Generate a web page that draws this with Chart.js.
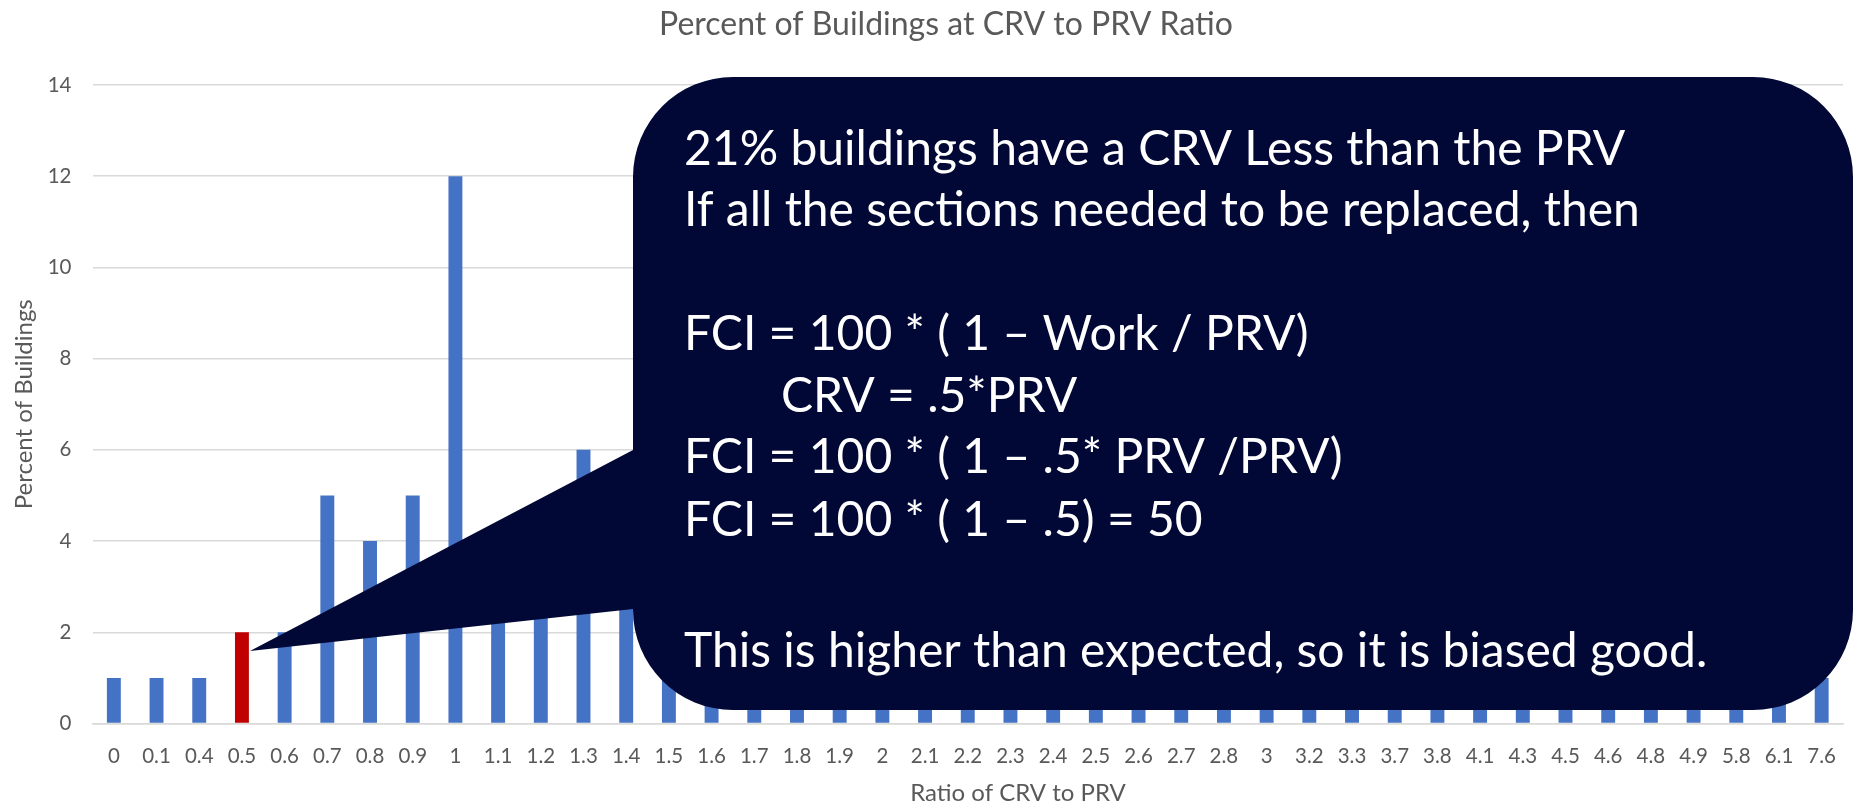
<!DOCTYPE html>
<html>
<head>
<meta charset="utf-8">
<script src="https://cdn.jsdelivr.net/npm/chart.js@4.4.1/dist/chart.umd.min.js"></script>
<style>
  html, body { margin: 0; padding: 0; background: #fff; }
  #wrap { width: 1857px; height: 806px; }
</style>
</head>
<body>
<div id="wrap"><canvas id="ratioChart" width="1857" height="806"></canvas></div>
<script>
// CRV / PRV ratio buckets and the share of buildings in each
const ratioLabels = ['0', '0.1', '0.4', '0.5', '0.6', '0.7', '0.8', '0.9', '1', '1.1',
  '1.2', '1.3', '1.4', '1.5', '1.6', '1.7', '1.8', '1.9', '2', '2.1', '2.2', '2.3', '2.4',
  '2.5', '2.6', '2.7', '2.8', '3', '3.2', '3.3', '3.7', '3.8', '4.1', '4.3', '4.5', '4.6',
  '4.8', '4.9', '5.8', '6.1', '7.6'];
const percentValues = [1, 1, 1, 2, 2, 5, 4, 5, 12, 4,
  4, 6, 5, 4, 4, 3, 3, 3, 3, 2, 2, 2, 2,
  2, 1, 2, 1, 1, 1, 1, 1, 1, 1, 1, 1, 1,
  1, 1, 1, 1, 1];
const yTicks = [0, 2, 4, 6, 8, 10, 12, 14];
const highlightRatio = '0.5';

const chartTitle = 'Percent of Buildings at CRV to PRV Ratio';
const xAxisTitle = 'Ratio of CRV to PRV';
const noteLines = [
  { text: '21% buildings have a CRV Less than the PRV', y: 150 },
  { text: 'If all the sections needed to be replaced, then', y: 211 },
  { text: 'FCI = 100 * ( 1 \u2013 Work / PRV)', y: 335 },
  { text: 'CRV = .5*PRV', y: 397, indent: 97 },
  { text: 'FCI = 100 * ( 1 \u2013 .5* PRV /PRV)', y: 458 },
  { text: 'FCI = 100 * ( 1 \u2013 .5) = 50', y: 521 },
  { text: 'This is higher than expected, so it is biased good.', y: 652 }
];

const GREY = '#595959';
const GRID = '#d9d9d9';
const BLUE = '#4472c4';
const RED = '#c00000';
const NAVY = '#010835';

const barColors = ratioLabels.map(l => l === highlightRatio ? RED : BLUE);

// chart title and category axis title
const titlePlugin = {
  id: 'titles',
  afterDraw(chart) {
    const ctx = chart.ctx;
    ctx.save();
    ctx.fillStyle = GREY;
    ctx.textAlign = 'center';
    ctx.textBaseline = 'middle';
    ctx.font = '32px Lato';
    ctx.fillText(chartTitle, 946, 25);
    ctx.font = '24px Lato';
    ctx.fillText(xAxisTitle, 1018, 793);
    ctx.restore();
  }
};

// rounded callout with a wedge pointing at the highlighted bar
const calloutPlugin = {
  id: 'callout',
  afterDraw(chart) {
    const ctx = chart.ctx;
    const L = 633, R = 1853, T = 77, B = 710, r = 100;
    const tip = { x: 250, y: 651 };
    const baseTop = 450, baseBottom = 609;

    ctx.save();
    ctx.beginPath();
    ctx.moveTo(L + r, T);
    ctx.lineTo(R - r, T);
    ctx.arcTo(R, T, R, T + r, r);
    ctx.lineTo(R, B - r);
    ctx.arcTo(R, B, R - r, B, r);
    ctx.lineTo(L + r, B);
    ctx.arcTo(L, B, L, B - r, r);
    ctx.lineTo(L, baseBottom);
    ctx.lineTo(tip.x, tip.y);
    ctx.lineTo(L, baseTop);
    ctx.lineTo(L, T + r);
    ctx.arcTo(L, T, L + r, T, r);
    ctx.closePath();
    ctx.fillStyle = NAVY;
    ctx.fill();

    ctx.font = '48px Lato';
    ctx.fillStyle = '#ffffff';
    ctx.textAlign = 'left';
    ctx.textBaseline = 'middle';
    noteLines.forEach(line => {
      ctx.fillText(line.text, 684 + (line.indent || 0), line.y);
    });
    ctx.restore();
  }
};

const ctx = document.getElementById('ratioChart').getContext('2d');

new Chart(ctx, {
  type: 'bar',
  data: {
    labels: ratioLabels,
    datasets: [{
      label: 'Percent of Buildings',
      data: percentValues,
      backgroundColor: barColors,
      borderWidth: 0,
      categoryPercentage: 1,
      barPercentage: 0.326
    }]
  },
  options: {
    responsive: false,
    animation: false,
    layout: {
      padding: { top: 85, right: 1.5, bottom: 0, left: 0 }
    },
    scales: {
      x: {
        grid: { display: false, drawTicks: false },
        border: { display: true, color: GRID, width: 1.5 },
        ticks: {
          autoSkip: false,
          maxRotation: 0,
          padding: 21,
          color: GREY,
          font: { family: 'Lato', size: 20.5 }
        },
        afterFit(scale) { scale.height = 82.5; }
      },
      y: {
        min: yTicks[0],
        max: yTicks[yTicks.length - 1],
        afterBuildTicks(scale) { scale.ticks = yTicks.map(v => ({ value: v })); },
        grid: { color: GRID, lineWidth: 1.5, drawTicks: false },
        border: { display: false },
        ticks: {
          padding: 21,
          color: GREY,
          font: { family: 'Lato', size: 20.5 }
        },
        title: {
          display: true,
          text: 'Percent of Buildings',
          color: GREY,
          font: { family: 'Lato', size: 24 },
          padding: { top: 10, bottom: 0 }
        },
        afterFit(scale) { scale.width = 92.5; }
      }
    },
    plugins: {
      legend: { display: false },
      title: { display: false },
      tooltip: { enabled: false }
    }
  },
  plugins: [titlePlugin, calloutPlugin]
});
</script>
</body>
</html>
